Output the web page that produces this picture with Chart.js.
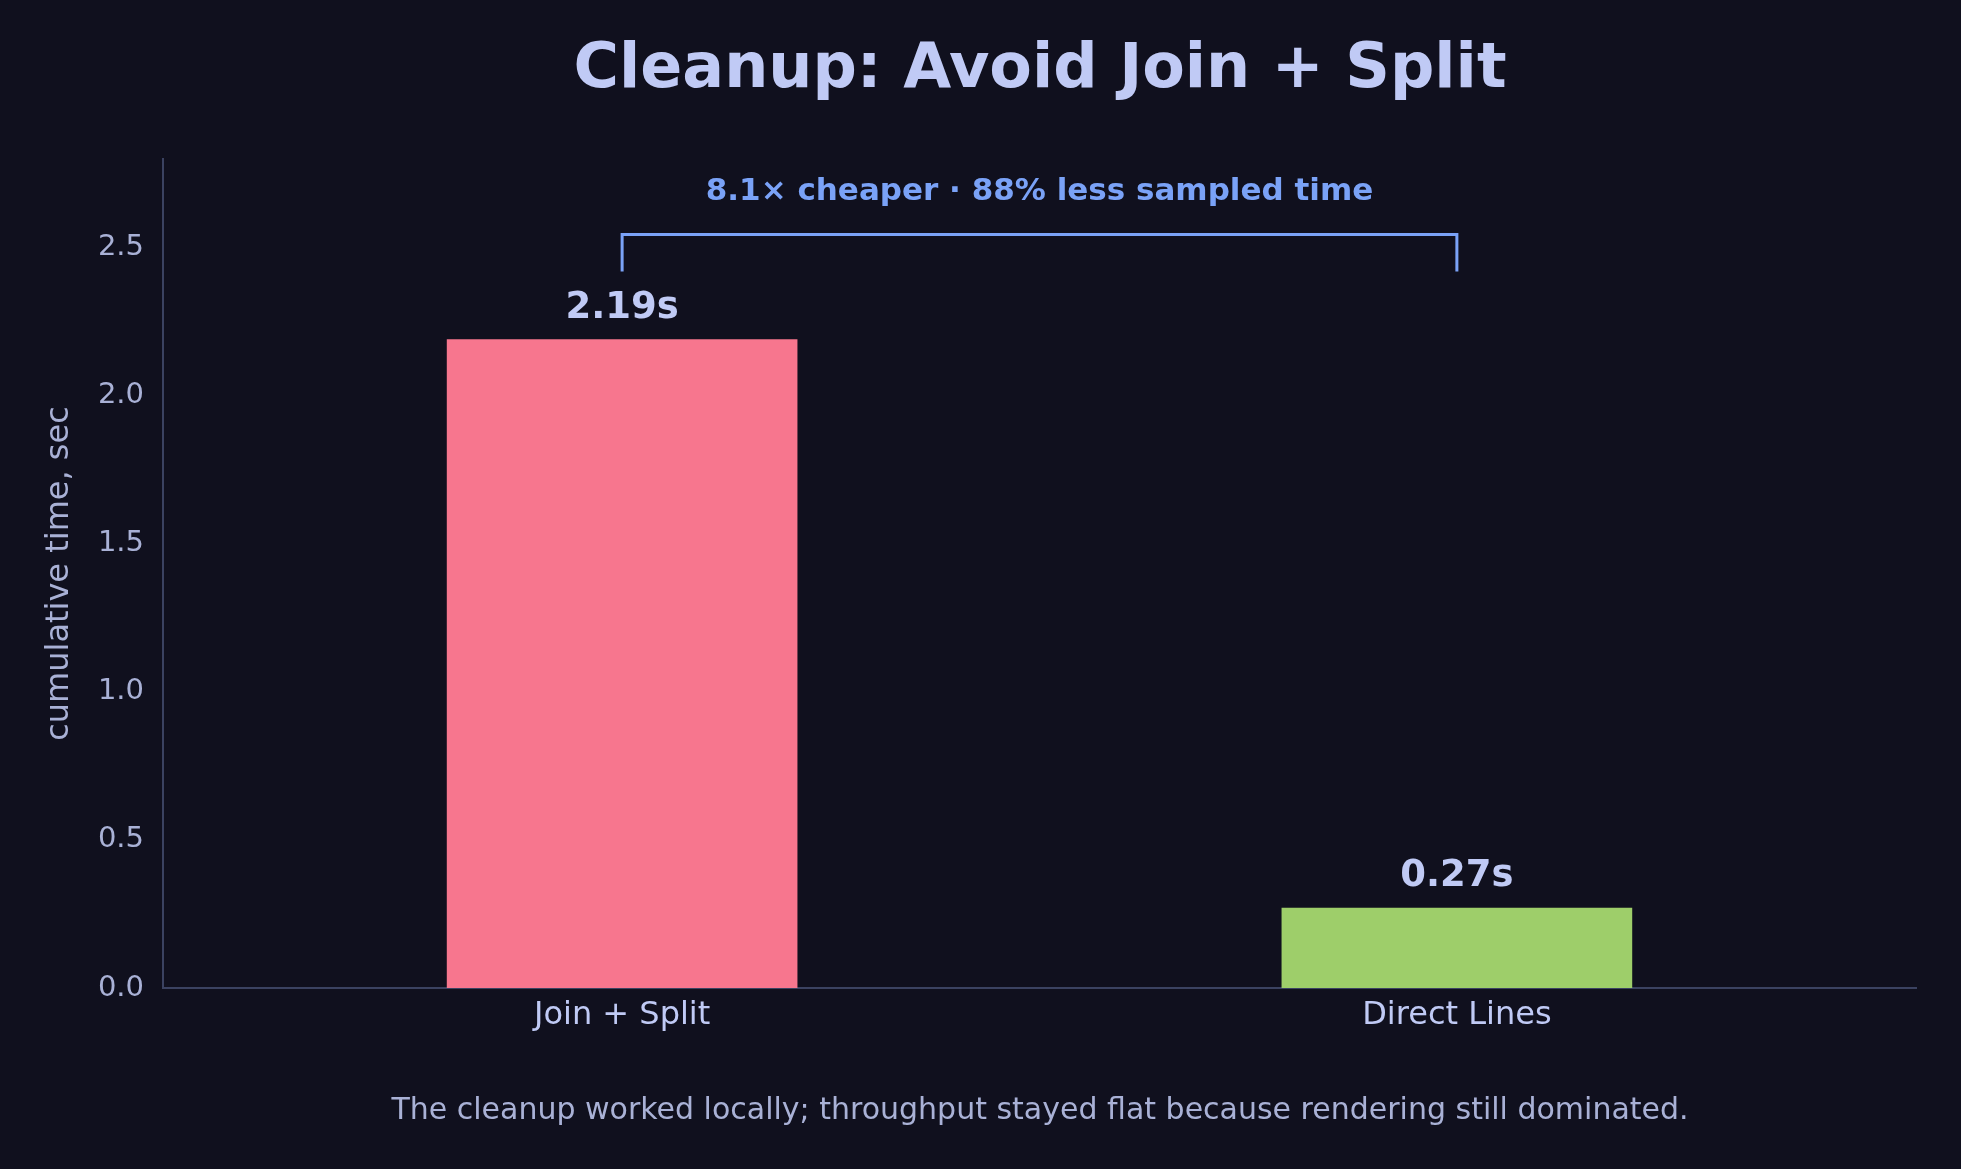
<!DOCTYPE html>
<html><head><meta charset="utf-8">
<script src="https://cdn.jsdelivr.net/npm/chart.js@4"></script>
<style>html,body{margin:0;background:#10101e;}#w{width:1961px;height:1169px;}</style>
</head><body><div id="w"><canvas id="c"></canvas></div>
<script>
const categories = ["Join + Split", "Direct Lines"];
const values = [2.19, 0.27];
const valueLabels = ["2.19s", "0.27s"];
const barColors = ["#f7768e", "#9ece6a"];
const yTicks = [0, 0.5, 1.0, 1.5, 2.0, 2.5];
const titleText = "Cleanup: Avoid Join + Split";
const noteText = "8.1× cheaper · 88% less sampled time";
const footerText = "The cleanup worked locally; throughput stayed flat because rendering still dominated.";
const F = "'DejaVu Sans', sans-serif";

const deco = {
  id: 'deco',
  afterDatasetsDraw(chart) {
    const {ctx, scales:{x, y}} = chart;
    ctx.save();
    ctx.textAlign = 'center';
    ctx.fillStyle = '#c0caf5';
    ctx.font = `bold 37px ${F}`;
    ctx.textBaseline = 'alphabetic';
    values.forEach((v, i) => ctx.fillText(valueLabels[i], x.getPixelForValue(i), y.getPixelForValue(v) - 22));
    ctx.strokeStyle = '#7aa2f7'; ctx.lineWidth = 3;
    const x0 = x.getPixelForValue(0), x1 = x.getPixelForValue(1);
    const yt = y.getPixelForValue(2.545), yb = y.getPixelForValue(2.42);
    ctx.beginPath(); ctx.moveTo(x0, yb); ctx.lineTo(x0, yt); ctx.lineTo(x1, yt); ctx.lineTo(x1, yb); ctx.stroke();
    ctx.fillStyle = '#7aa2f7'; ctx.font = `bold 31px ${F}`; ctx.textBaseline = 'middle';
    ctx.fillText(noteText, (x0 + x1) / 2, y.getPixelForValue(2.69));
    ctx.fillStyle = '#c0caf5'; ctx.font = `bold 62px ${F}`;
    ctx.fillText(titleText, 1040, 71);
    ctx.fillStyle = '#a9b1d6'; ctx.font = `30px ${F}`;
    ctx.fillText(footerText, 1040, 1111);
    ctx.restore();
  }
};

new Chart(document.getElementById('c'), {
  type: 'bar',
  data: { datasets: [{ data: values.map((v, i) => ({x: i, y: v})), backgroundColor: barColors, barThickness: 350 }] },
  options: {
    responsive: true, maintainAspectRatio: false, animation: false,
    layout: { padding: { top: 159, right: 45, left: 0, bottom: 0 } },
    plugins: { legend: { display: false }, tooltip: { enabled: false } },
    scales: {
      x: {
        type: 'linear', min: -0.55, max: 1.55, offset: false,
        afterBuildTicks: s => { s.ticks = [{value: 0}, {value: 1}]; },
        afterFit: s => { s.height = 181; },
        grid: { display: false, drawTicks: false, offset: false },
        border: { color: '#3b4261', width: 2 },
        ticks: { color: '#c0caf5', font: { family: F, size: 32 }, padding: 8, callback: v => categories[v] }
      },
      y: {
        min: 0, max: 2.8,
        afterBuildTicks: s => { s.ticks = yTicks.map(v => ({value: v})); },
        afterFit: s => { s.width = 163; },
        grid: { display: false },
        border: { color: '#3b4261', width: 2 },
        ticks: { color: '#a9b1d6', font: { family: F, size: 29 }, padding: 11, callback: v => v.toFixed(1) },
        title: { display: true, text: 'cumulative time, sec', color: '#a9b1d6', font: { family: F, size: 32 }, padding: { top: 40, bottom: 0 } }
      }
    }
  },
  plugins: [deco]
});
</script></body></html>
